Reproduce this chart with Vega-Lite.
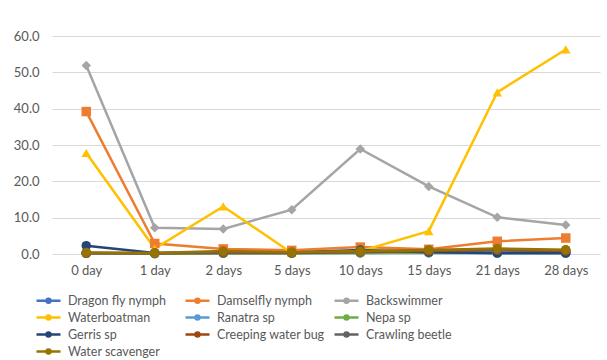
{
  "$schema": "https://vega.github.io/schema/vega-lite/v6.json",
  "width": 548,
  "height": 218,
  "autosize": {"type": "none"},
  "padding": {"left": 52, "top": 36, "right": 7, "bottom": 106},
  "background": "white",
  "config": {
    "view": {"stroke": null},
    "font": "Lato",
    "axis": {"labelFont": "Lato", "labelColor": "#595959", "labelFontSize": 13, "ticks": false, "domain": false, "title": null}
  },
  "data": {"values": [
    {"series": "Dragon fly nymph", "day": "0 day", "t": 0, "v": 0.3},
    {"series": "Dragon fly nymph", "day": "1 day", "t": 1, "v": 0.2},
    {"series": "Dragon fly nymph", "day": "2 days", "t": 2, "v": 0.5},
    {"series": "Dragon fly nymph", "day": "5 days", "t": 5, "v": 0.3},
    {"series": "Dragon fly nymph", "day": "10 days", "t": 10, "v": 0.8},
    {"series": "Dragon fly nymph", "day": "15 days", "t": 15, "v": 0.5},
    {"series": "Dragon fly nymph", "day": "21 days", "t": 21, "v": 0.3},
    {"series": "Dragon fly nymph", "day": "28 days", "t": 28, "v": 0.3},
    {"series": "Damselfly nymph", "day": "0 day", "t": 0, "v": 39.2},
    {"series": "Damselfly nymph", "day": "1 day", "t": 1, "v": 2.9},
    {"series": "Damselfly nymph", "day": "2 days", "t": 2, "v": 1.4},
    {"series": "Damselfly nymph", "day": "5 days", "t": 5, "v": 1.0},
    {"series": "Damselfly nymph", "day": "10 days", "t": 10, "v": 1.9},
    {"series": "Damselfly nymph", "day": "15 days", "t": 15, "v": 1.3},
    {"series": "Damselfly nymph", "day": "21 days", "t": 21, "v": 3.5},
    {"series": "Damselfly nymph", "day": "28 days", "t": 28, "v": 4.4},
    {"series": "Backswimmer", "day": "0 day", "t": 0, "v": 51.9},
    {"series": "Backswimmer", "day": "1 day", "t": 1, "v": 7.2},
    {"series": "Backswimmer", "day": "2 days", "t": 2, "v": 6.9},
    {"series": "Backswimmer", "day": "5 days", "t": 5, "v": 12.2},
    {"series": "Backswimmer", "day": "10 days", "t": 10, "v": 28.9},
    {"series": "Backswimmer", "day": "15 days", "t": 15, "v": 18.6},
    {"series": "Backswimmer", "day": "21 days", "t": 21, "v": 10.1},
    {"series": "Backswimmer", "day": "28 days", "t": 28, "v": 8.0},
    {"series": "Waterboatman", "day": "0 day", "t": 0, "v": 27.8},
    {"series": "Waterboatman", "day": "1 day", "t": 1, "v": 1.5},
    {"series": "Waterboatman", "day": "2 days", "t": 2, "v": 13.1},
    {"series": "Waterboatman", "day": "5 days", "t": 5, "v": 0.3},
    {"series": "Waterboatman", "day": "10 days", "t": 10, "v": 0.8},
    {"series": "Waterboatman", "day": "15 days", "t": 15, "v": 6.3},
    {"series": "Waterboatman", "day": "21 days", "t": 21, "v": 44.5},
    {"series": "Waterboatman", "day": "28 days", "t": 28, "v": 56.3},
    {"series": "Ranatra sp", "day": "0 day", "t": 0, "v": 0.2},
    {"series": "Ranatra sp", "day": "1 day", "t": 1, "v": 0.1},
    {"series": "Ranatra sp", "day": "2 days", "t": 2, "v": 0.2},
    {"series": "Ranatra sp", "day": "5 days", "t": 5, "v": 0.2},
    {"series": "Ranatra sp", "day": "10 days", "t": 10, "v": 0.3},
    {"series": "Ranatra sp", "day": "15 days", "t": 15, "v": 0.3},
    {"series": "Ranatra sp", "day": "21 days", "t": 21, "v": 0.2},
    {"series": "Ranatra sp", "day": "28 days", "t": 28, "v": 0.2},
    {"series": "Nepa sp", "day": "0 day", "t": 0, "v": 0.2},
    {"series": "Nepa sp", "day": "1 day", "t": 1, "v": 0.1},
    {"series": "Nepa sp", "day": "2 days", "t": 2, "v": 0.2},
    {"series": "Nepa sp", "day": "5 days", "t": 5, "v": 0.2},
    {"series": "Nepa sp", "day": "10 days", "t": 10, "v": 0.3},
    {"series": "Nepa sp", "day": "15 days", "t": 15, "v": 0.4},
    {"series": "Nepa sp", "day": "21 days", "t": 21, "v": 0.3},
    {"series": "Nepa sp", "day": "28 days", "t": 28, "v": 0.3},
    {"series": "Gerris sp", "day": "0 day", "t": 0, "v": 2.3},
    {"series": "Gerris sp", "day": "1 day", "t": 1, "v": 0.3},
    {"series": "Gerris sp", "day": "2 days", "t": 2, "v": 0.5},
    {"series": "Gerris sp", "day": "5 days", "t": 5, "v": 0.4},
    {"series": "Gerris sp", "day": "10 days", "t": 10, "v": 1.1},
    {"series": "Gerris sp", "day": "15 days", "t": 15, "v": 0.5},
    {"series": "Gerris sp", "day": "21 days", "t": 21, "v": 0.3},
    {"series": "Gerris sp", "day": "28 days", "t": 28, "v": 0.3},
    {"series": "Creeping water bug", "day": "0 day", "t": 0, "v": 0.2},
    {"series": "Creeping water bug", "day": "1 day", "t": 1, "v": 0.2},
    {"series": "Creeping water bug", "day": "2 days", "t": 2, "v": 0.3},
    {"series": "Creeping water bug", "day": "5 days", "t": 5, "v": 0.3},
    {"series": "Creeping water bug", "day": "10 days", "t": 10, "v": 0.5},
    {"series": "Creeping water bug", "day": "15 days", "t": 15, "v": 0.8},
    {"series": "Creeping water bug", "day": "21 days", "t": 21, "v": 1.0},
    {"series": "Creeping water bug", "day": "28 days", "t": 28, "v": 0.8},
    {"series": "Crawling beetle", "day": "0 day", "t": 0, "v": 0.3},
    {"series": "Crawling beetle", "day": "1 day", "t": 1, "v": 0.2},
    {"series": "Crawling beetle", "day": "2 days", "t": 2, "v": 0.5},
    {"series": "Crawling beetle", "day": "5 days", "t": 5, "v": 0.4},
    {"series": "Crawling beetle", "day": "10 days", "t": 10, "v": 0.6},
    {"series": "Crawling beetle", "day": "15 days", "t": 15, "v": 1.0},
    {"series": "Crawling beetle", "day": "21 days", "t": 21, "v": 1.2},
    {"series": "Crawling beetle", "day": "28 days", "t": 28, "v": 1.0},
    {"series": "Water scavenger", "day": "0 day", "t": 0, "v": 0.4},
    {"series": "Water scavenger", "day": "1 day", "t": 1, "v": 0.3},
    {"series": "Water scavenger", "day": "2 days", "t": 2, "v": 0.8},
    {"series": "Water scavenger", "day": "5 days", "t": 5, "v": 0.5},
    {"series": "Water scavenger", "day": "10 days", "t": 10, "v": 0.8},
    {"series": "Water scavenger", "day": "15 days", "t": 15, "v": 1.1},
    {"series": "Water scavenger", "day": "21 days", "t": 21, "v": 1.5},
    {"series": "Water scavenger", "day": "28 days", "t": 28, "v": 1.2}
  ]},
  "encoding": {
    "x": {"field": "day", "type": "ordinal", "sort": ["0 day","1 day","2 days","5 days","10 days","15 days","21 days","28 days"],
      "scale": {"type": "point", "padding": 0.5},
      "axis": {"labelAngle": 0, "labelPadding": 10, "grid": false}},
    "y": {"field": "v", "type": "quantitative", "scale": {"domain": [0, 60]},
      "axis": {"values": [0,10,20,30,40,50,60], "format": ".1f", "labelPadding": 13, "gridColor": "#D9D9D9", "gridWidth": 1}},
    "order": {"field": "t", "type": "quantitative"}
  },
  "layer": [
    {
      "mark": {"type": "line", "strokeWidth": 2.5},
      "encoding": {
        "color": {"field": "series", "type": "nominal",
          "scale": {"domain": ["Dragon fly nymph","Damselfly nymph","Backswimmer","Waterboatman","Ranatra sp","Nepa sp","Gerris sp","Creeping water bug","Crawling beetle","Water scavenger"],
            "range": ["#4472C4","#ED7D31","#A5A5A5","#FFC000","#5B9BD5","#70AD47","#264478","#9E480E","#636363","#997300"]},
          "legend": {"orient": "none", "legendX": -11, "legendY": 257, "title": null, "columns": 3, "direction": "horizontal",
            "gridAlign": "all", "columnPadding": 4, "rowPadding": 2,
            "symbolType": "M-2,0H2M-0.33,0a0.33,0.33 0 1,0 0.66,0a0.33,0.33 0 1,0 -0.66,0",
            "symbolSize": 144, "symbolStrokeWidth": 2.5, "labelFont": "Lato", "labelFontSize": 12.5, "labelColor": "#595959", "labelOffset": 12, "labelLimit": 200}}
      }
    },
    {
      "mark": {"type": "point", "filled": true, "opacity": 1, "size": 90},
      "encoding": {
        "color": {"field": "series", "type": "nominal", "legend": null},
        "shape": {"field": "series", "type": "nominal", "legend": null,
          "scale": {"domain": ["Dragon fly nymph","Damselfly nymph","Backswimmer","Waterboatman","Ranatra sp","Nepa sp","Gerris sp","Creeping water bug","Crawling beetle","Water scavenger"],
            "range": ["circle","square","diamond","triangle-up","circle","circle","circle","circle","circle","circle"]}}
      }
    }
  ],
  "resolve": {"legend": {"color": "independent"}}
}
